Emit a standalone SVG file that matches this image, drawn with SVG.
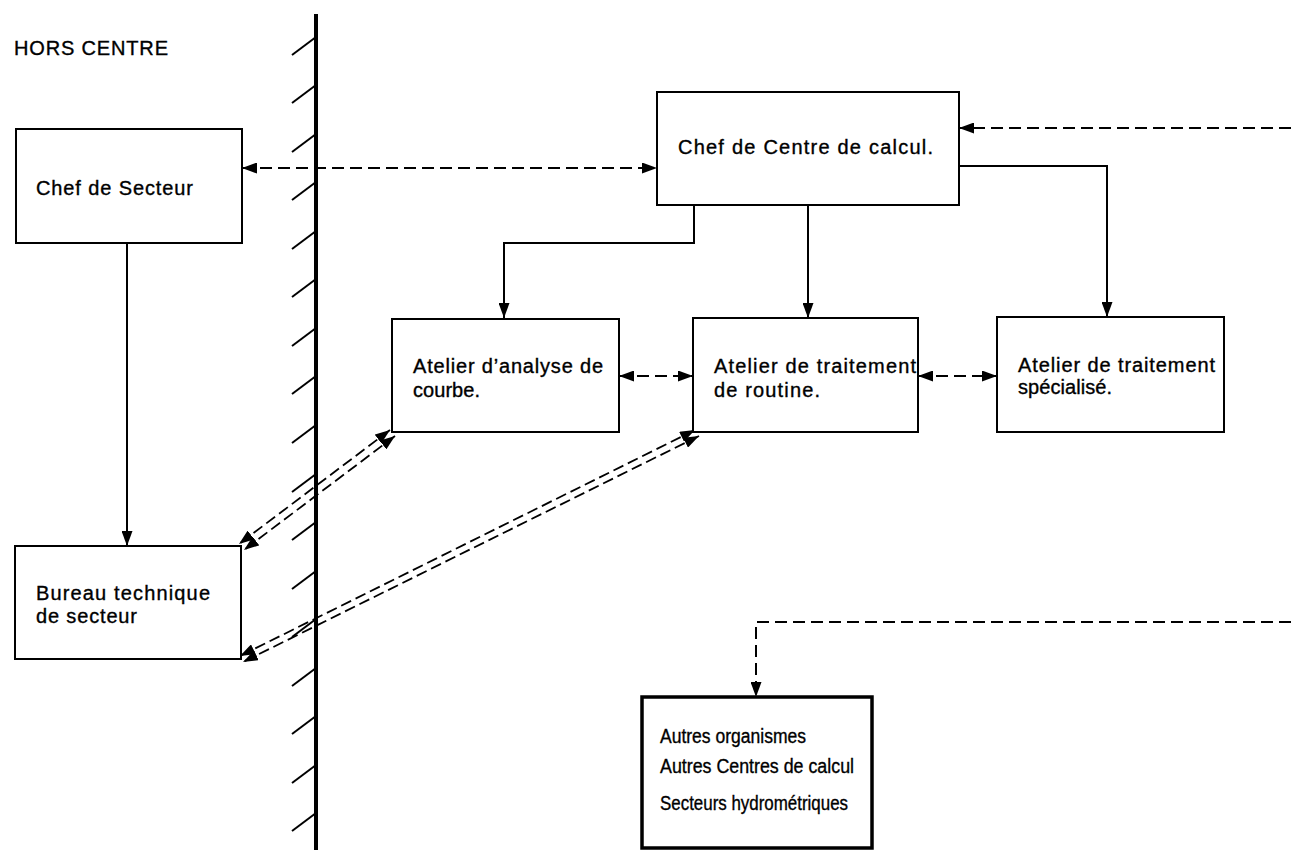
<svg xmlns="http://www.w3.org/2000/svg" width="1291" height="850" viewBox="0 0 1291 850">
  <defs>
    <marker id="ah" viewBox="0 0 15 11" refX="15" refY="5.5" markerWidth="15" markerHeight="11" markerUnits="userSpaceOnUse" orient="auto-start-reverse">
      <path d="M0,0 L15,5.5 L0,11 Z" fill="#000"/>
    </marker>
  </defs>
  <style>
    .box { fill: #fff; stroke: #000; stroke-width: 2; }
    .heavy { stroke-width: 3.5; }
    .lbl { font-family: "Liberation Sans", "DejaVu Sans", sans-serif; font-size: 20px; fill: #000; stroke: #000; stroke-width: 0.35; }
    .solid { fill: none; stroke: #000; stroke-width: 2; }
    .dash { fill: none; stroke: #000; stroke-width: 2; stroke-dasharray: 12 6; }
    .dash2 { fill: none; stroke: #000; stroke-width: 1.8; stroke-dasharray: 11 5; }
    .wall { stroke: #000; stroke-width: 4; }
    .hatch { stroke: #000; stroke-width: 2; }
  </style>
  <rect width="1291" height="850" fill="#fff"/>

  <!-- boundary wall with hatching -->
  <g id="wall">
    <line class="wall" x1="316" y1="14" x2="316" y2="850"/>
    <g class="hatch">
      <line x1="316" y1="37" x2="292" y2="55"/>
      <line x1="316" y1="85" x2="292" y2="103"/>
      <line x1="316" y1="134" x2="292" y2="152"/>
      <line x1="316" y1="182" x2="292" y2="200"/>
      <line x1="316" y1="231" x2="292" y2="249"/>
      <line x1="316" y1="279" x2="292" y2="297"/>
      <line x1="316" y1="328" x2="292" y2="346"/>
      <line x1="316" y1="376" x2="292" y2="394"/>
      <line x1="316" y1="425" x2="292" y2="443"/>
      <line x1="316" y1="474" x2="292" y2="492"/>
      <line x1="316" y1="522" x2="292" y2="540"/>
      <line x1="316" y1="571" x2="292" y2="589"/>
      <line x1="316" y1="619" x2="292" y2="637"/>
      <line x1="316" y1="668" x2="292" y2="686"/>
      <line x1="316" y1="716" x2="292" y2="734"/>
      <line x1="316" y1="765" x2="292" y2="783"/>
      <line x1="316" y1="813" x2="292" y2="831"/>
    </g>
  </g>

  <text class="lbl" x="14" y="55" textLength="154" lengthAdjust="spacing">HORS CENTRE</text>

  <!-- connectors -->
  <g id="connectors">
    <line class="dash" x1="242" y1="168" x2="657" y2="168" marker-start="url(#ah)" marker-end="url(#ah)"/>
    <line class="dash" x1="1291" y1="128" x2="959" y2="128" marker-end="url(#ah)"/>
    <line class="solid" x1="127" y1="243" x2="127" y2="546" marker-end="url(#ah)"/>
    <polyline class="solid" points="694,205 694,243 504,243 504,318" marker-end="url(#ah)"/>
    <line class="solid" x1="808" y1="205" x2="808" y2="318" marker-end="url(#ah)"/>
    <polyline class="solid" points="959,166 1107,166 1107,317" marker-end="url(#ah)"/>
    <line class="dash" x1="619" y1="376" x2="693" y2="376" stroke-dasharray="8 5" marker-start="url(#ah)" marker-end="url(#ah)"/>
    <line class="dash" x1="918" y1="376" x2="997" y2="376" stroke-dasharray="8 5" marker-start="url(#ah)" marker-end="url(#ah)"/>
    <polyline class="dash" points="1291,622 756,622 756,697" marker-end="url(#ah)"/>
    <!-- paired exchange lines with the sector office -->
    <line class="dash2" x1="390" y1="430" x2="239" y2="544" marker-start="url(#ah)" marker-end="url(#ah)"/>
    <line class="dash2" x1="395" y1="436" x2="244" y2="550" marker-start="url(#ah)" marker-end="url(#ah)"/>
    <line class="dash2" x1="695" y1="430" x2="240" y2="656" marker-start="url(#ah)" marker-end="url(#ah)"/>
    <line class="dash2" x1="699" y1="436" x2="243" y2="662" marker-start="url(#ah)" marker-end="url(#ah)"/>
  </g>

  <g id="chef-secteur">
    <rect class="box" x="16" y="129" width="226" height="114"/>
    <text class="lbl" x="36" y="195" textLength="157" lengthAdjust="spacing">Chef de Secteur</text>
  </g>

  <g id="chef-centre">
    <rect class="box" x="657" y="92" width="302" height="113"/>
    <text class="lbl" x="678" y="154" textLength="255" lengthAdjust="spacing">Chef de Centre de calcul.</text>
  </g>

  <g id="atelier-analyse">
    <rect class="box" x="392" y="319" width="227" height="113"/>
    <text class="lbl" x="413" y="373" textLength="190" lengthAdjust="spacing">Atelier d’analyse de</text>
    <text class="lbl" x="413" y="397" textLength="67" lengthAdjust="spacing">courbe.</text>
  </g>

  <g id="atelier-routine">
    <rect class="box" x="693" y="318" width="225" height="114"/>
    <text class="lbl" x="714" y="373" textLength="202" lengthAdjust="spacing">Atelier de traitement</text>
    <text class="lbl" x="714" y="397" textLength="106" lengthAdjust="spacing">de routine.</text>
  </g>

  <g id="atelier-specialise">
    <rect class="box" x="997" y="317" width="227" height="115"/>
    <text class="lbl" x="1018" y="372" textLength="197" lengthAdjust="spacing">Atelier de traitement</text>
    <text class="lbl" x="1018" y="394" textLength="94" lengthAdjust="spacing">spécialisé.</text>
  </g>

  <g id="bureau-technique">
    <rect class="box" x="15" y="546" width="226" height="113"/>
    <text class="lbl" x="36" y="600" textLength="174" lengthAdjust="spacing">Bureau technique</text>
    <text class="lbl" x="36" y="623" textLength="101" lengthAdjust="spacing">de secteur</text>
  </g>

  <g id="autres">
    <rect class="box heavy" x="642" y="697" width="230" height="151"/>
    <text class="lbl" x="660" y="743" textLength="146" lengthAdjust="spacingAndGlyphs">Autres organismes</text>
    <text class="lbl" x="660" y="773" textLength="194" lengthAdjust="spacingAndGlyphs">Autres Centres de calcul</text>
    <text class="lbl" x="660" y="810" textLength="188" lengthAdjust="spacingAndGlyphs">Secteurs hydrométriques</text>
  </g>
</svg>
